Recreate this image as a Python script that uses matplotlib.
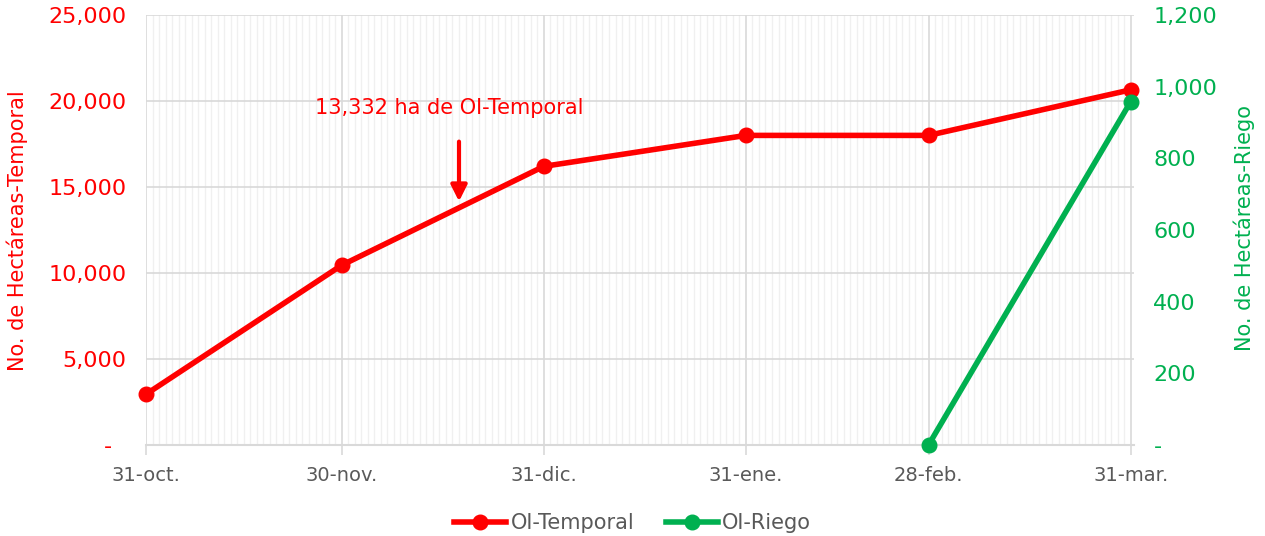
import matplotlib.pyplot as plt
import matplotlib.dates as mdates
import pandas as pd
from matplotlib.ticker import FuncFormatter, MultipleLocator

# data
fechas = pd.to_datetime(['2022-10-31', '2022-11-30', '2022-12-31',
                         '2023-01-31', '2023-02-28', '2023-03-31'])
etiquetas = ['31-oct.', '30-nov.', '31-dic.', '31-ene.', '28-feb.', '31-mar.']
oi_temporal = [2950, 10450, 16200, 18000, 18000, 20650]

fechas_riego = pd.to_datetime(['2023-02-28', '2023-03-31'])
oi_riego = [0, 958]

nota = '13,332 ha de OI-Temporal'
nota_fecha = pd.Timestamp('2022-12-18')

ROJO = '#FF0000'
VERDE = '#00B050'
GRIS = '#595959'

plt.rcParams['font.family'] = ['DejaVu Sans']

fig = plt.figure(figsize=(12.65, 5.36), dpi=100)
ax = fig.add_axes([0.1154, 0.1698, 0.7810, 0.8022])
ax2 = ax.twinx()

# gridlines
ax.set_xlim(fechas[0], fechas[-1] + pd.Timedelta(hours=12))
ax.set_xticks(fechas)
ax.set_xticklabels(etiquetas)
ax.xaxis.set_minor_locator(mdates.DayLocator())
ax.grid(which='minor', axis='x', color='#f0f0f0', lw=1)
ax.grid(which='major', axis='x', color='#d9d9d9', lw=1.2)
ax.grid(which='major', axis='y', color='#d9d9d9', lw=1.2)
ax.set_axisbelow(True)

# excel accounting style: zero shown as a dash
ax.set_ylim(0, 25000)
ax.yaxis.set_major_locator(MultipleLocator(5000))
ax.yaxis.set_major_formatter(FuncFormatter(lambda v, p: '-  ' if v == 0 else f'{v:,.0f}'))
ax2.set_ylim(0, 1200)
ax2.yaxis.set_major_locator(MultipleLocator(200))
ax2.yaxis.set_major_formatter(FuncFormatter(lambda v, p: '-' if v == 0 else f'{v:,.0f}'))

for s in ['top', 'left', 'right']:
    ax.spines[s].set_visible(False)
    ax2.spines[s].set_visible(False)
ax2.spines['bottom'].set_visible(False)
ax.spines['bottom'].set_color('#d9d9d9')
ax.spines['bottom'].set_linewidth(1.5)

ax.tick_params(axis='x', which='major', length=7, width=1.2, color='#d9d9d9',
               labelsize=14, labelcolor=GRIS, pad=8)
ax.tick_params(axis='x', which='minor', length=0)
ax.tick_params(axis='y', length=0, labelsize=16, labelcolor=ROJO, pad=14)
ax2.tick_params(axis='y', length=0, labelsize=16, labelcolor=VERDE, pad=14)

ax.set_ylabel('No. de Hectáreas-Temporal', color=ROJO, fontsize=15)
ax2.set_ylabel('No. de Hectáreas-Riego', color=VERDE, fontsize=15)
ax.yaxis.set_label_coords(-0.119, 0.498)
ax2.yaxis.set_label_coords(1.101, 0.505)

l1, = ax.plot(fechas, oi_temporal, color=ROJO, lw=4, marker='o', ms=10.5,
              label='OI-Temporal', zorder=3, clip_on=False)
l2, = ax2.plot(fechas_riego, oi_riego, color=VERDE, lw=4, marker='o', ms=10.5,
               label='OI-Riego', zorder=3, clip_on=False)

ax.annotate('', xy=(nota_fecha, 14000), xytext=(nota_fecha, 17800),
            arrowprops=dict(arrowstyle='-|>', color=ROJO, lw=3, mutation_scale=24))
ax.text(pd.Timestamp('2022-12-16 12:00'), 19600, nota, color=ROJO, fontsize=15,
        ha='center', va='center')

fig.legend([l1, l2], ['OI-Temporal', 'OI-Riego'], loc='lower center',
           bbox_to_anchor=(0.5, -0.03), ncol=2, frameon=False, fontsize=15,
           labelcolor=GRIS, handlelength=2.5, columnspacing=1.5, handletextpad=0.2)

fig.savefig('out.png', dpi=100)
